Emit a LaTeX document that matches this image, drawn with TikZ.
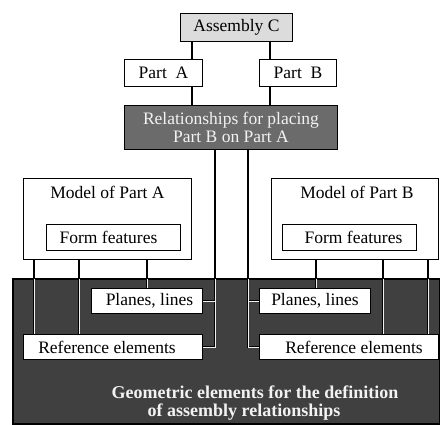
\documentclass[tikz,border=0pt]{standalone}
\usepackage{fontspec}
\setmainfont{Liberation Serif}
\definecolor{darkbg}{HTML}{404040}
\definecolor{relfill}{HTML}{6B6B6B}
\definecolor{topfill}{HTML}{DCDCDC}
\definecolor{litetext}{HTML}{F2F2F2}
\newcommand\wiring[1]{%
  \draw[#1] (asmC.south -| xa) -- (partA.north -| xa);
  \draw[#1] (partA.south -| xa) -- (rel.north -| xa);
  \draw[#1] (asmC.south -| xb) -- (partB.north -| xb);
  \draw[#1] (partB.south -| xb) -- (rel.north -| xb);
  \draw[#1] (rel.south -| xl) -- (refA.east -| xl) -- (refA.east);
  \draw[#1] (plA.east -| xl) -- (plA.east);
  \draw[#1] (rel.south -| xr) -- (refB.west -| xr) -- (refB.west);
  \draw[#1] (plB.west -| xr) -- (plB.west);
  \draw[#1] (modA.south -| xa1) -- (refA.north -| xa1);
  \draw[#1] (modA.south -| xa2) -- (refA.north -| xa2);
  \draw[#1] (modA.south -| xa3) -- (plA.north -| xa3);
  \draw[#1] (modB.south -| xb1) -- (plB.north -| xb1);
  \draw[#1] (modB.south -| xb2) -- (refB.north -| xb2);
  \draw[#1] (modB.south -| xb3) -- (refB.north -| xb3);
}
\begin{document}
\begin{tikzpicture}[x=1pt,y=-1pt,
  txt/.style={font=\fontsize{17.5}{18}\selectfont},
  box/.style={draw=black,line width=1.3pt,fill=white,inner sep=0pt,txt},
  wire/.style={line width=1.3pt,black},
  litewire/.style={line width=1pt,gray!12},
  caption/.style={inner sep=0pt,anchor=base,text=litetext,font=\fontsize{18}{18}\selectfont\bfseries}]
\useasboundingbox (0,0) rectangle (440,424);

% dark band holding the geometric elements
\node[draw=black,line width=1.3pt,fill=darkbg,minimum width=427pt,minimum height=145pt,inner sep=0pt] (geo) at (226.5,351.5) {};

% guide positions of the vertical connectors
\coordinate (xa) at (192,0);
\coordinate (xb) at (270,0);
\coordinate (xl) at (215,0);
\coordinate (xr) at (248,0);
\coordinate (xa1) at (34,0);
\coordinate (xa2) at (79,0);
\coordinate (xa3) at (147,0);
\coordinate (xb1) at (316,0);
\coordinate (xb2) at (383,0);
\coordinate (xb3) at (428,0);

% hierarchy
\node[box,fill=topfill,minimum width=112pt,minimum height=28pt] (asmC) at (236.5,27.5) {Assembly C};
\node[box,minimum width=78pt,minimum height=27pt] (partA) at (163.5,73) {Part~~A};
\node[box,minimum width=77pt,minimum height=27pt] (partB) at (298,73) {Part~~B};
\node[box,fill=relfill,text=litetext,align=center,minimum width=213pt,minimum height=44pt] (rel) at (231,127.5) {Relationships for placing\\Part B on Part A};

% part models
\node[box,minimum width=168pt,minimum height=81pt] (modA) at (107.5,219) {};
\node[box,minimum width=167pt,minimum height=81pt] (modB) at (355,219) {};
\node[txt,inner sep=0pt] (modAtxt) at (107.5,192) {Model of Part A};
\node[txt,inner sep=0pt] (modBtxt) at (357,192) {Model of Part B};
\node[box,minimum width=134pt,minimum height=26pt] (formA) at (113.5,237.5) {\hspace*{-10pt}Form features};
\node[box,minimum width=134pt,minimum height=26pt] (formB) at (349.5,237.5) {\hspace*{8pt}Form features};

% geometric elements
\node[box,minimum width=111pt,minimum height=25pt] (plA) at (147,301) {\hspace*{5pt}Planes, lines};
\node[box,minimum width=111pt,minimum height=25pt] (plB) at (315,301) {Planes, lines};
\node[box,minimum width=179pt,minimum height=25pt] (refA) at (113,347) {\hspace*{-12pt}Reference elements};
\node[box,minimum width=179pt,minimum height=25pt] (refB) at (349,347) {\hspace*{10pt}Reference elements};

\node[caption] (geo1) at (255,398) {Geometric elements for the definition};
\node[caption] (geo2) at (244,416) {of assembly relationships};

% connectors: black on white, light inside the dark band
\wiring{wire}
\begin{scope}
  \clip ([yshift=-1pt]geo.north west) rectangle (geo.south east);
  \wiring{litewire}
\end{scope}
\end{tikzpicture}
\end{document}
